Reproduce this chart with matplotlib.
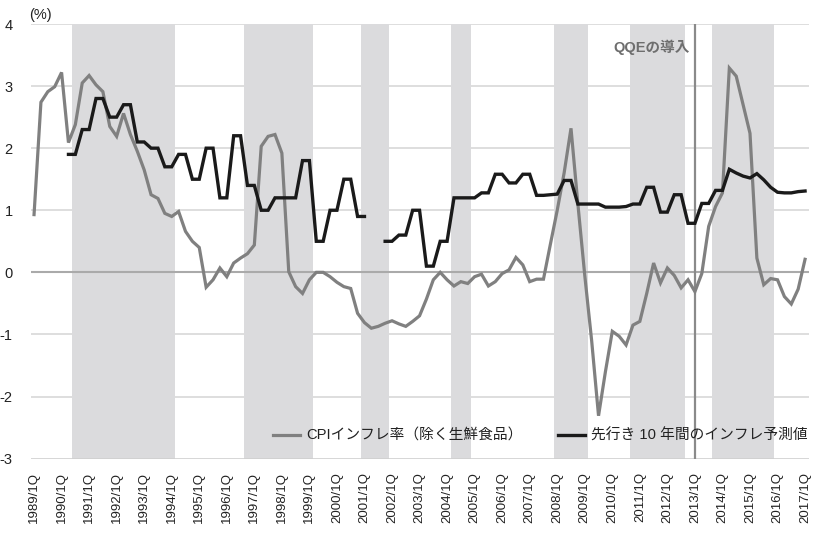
import matplotlib
matplotlib.use("Agg")
import matplotlib.pyplot as plt
from matplotlib.font_manager import FontProperties
import numpy as np

# ---------------- data ----------------
quarters = [f"{y}/{q}Q" for y in range(1989, 2018) for q in range(1, 5)][:113]

cpi = [
    0.93, 2.74, 2.91, 2.99, 3.22, 2.09, 2.38, 3.05, 3.17, 3.02, 2.91, 2.35, 2.19, 2.56,
    2.22, 1.95, 1.65, 1.25, 1.19, 0.95, 0.90, 0.98, 0.66, 0.50, 0.40, -0.24, -0.12, 0.07, -0.07,
    0.15, 0.23, 0.30, 0.44, 2.03, 2.19, 2.22, 1.92, 0.01, -0.23, -0.34, -0.12, 0.00, 0.00,
    -0.07, -0.16, -0.23, -0.26, -0.66, -0.81, -0.90, -0.87, -0.82, -0.78, -0.83, -0.87, -0.79, -0.70,
    -0.43, -0.12, 0.00, -0.12, -0.22, -0.15, -0.18, -0.07, -0.03, -0.22, -0.15, -0.02, 0.04, 0.24,
    0.12, -0.15, -0.11, -0.11, 0.45, 1.00, 1.60, 2.32, 1.10, -0.05, -1.10, -2.31, -1.60, -0.95,
    -1.03, -1.17, -0.85, -0.79, -0.34, 0.15, -0.17, 0.07, -0.05, -0.25, -0.12, -0.31, -0.02, 0.74,
    1.06, 1.28, 3.29, 3.16, 2.70, 2.24, 0.23, -0.20, -0.10, -0.12, -0.39, -0.51, -0.27, 0.21,
]

N = None
expect10y = [
    N, N, N, N, N,
    1.9, 1.9, 2.3, 2.3, 2.8, 2.8, 2.5, 2.5, 2.7, 2.7, 2.1, 2.1, 2.0, 2.0, 1.7, 1.7,
    1.9, 1.9, 1.5, 1.5, 2.0, 2.0, 1.2, 1.2, 2.2, 2.2, 1.4, 1.4, 1.0, 1.0,
    1.2, 1.2, 1.2, 1.2, 1.8, 1.8, 0.5, 0.5, 1.0, 1.0, 1.5, 1.5, 0.9, 0.9,
    N, N,
    0.5, 0.5, 0.6, 0.6, 1.0, 1.0, 0.1, 0.1, 0.5, 0.5, 1.2, 1.2, 1.2, 1.2,
    1.28, 1.28, 1.58, 1.58, 1.44, 1.44, 1.58, 1.58, 1.24, 1.24, 1.25, 1.26,
    1.48, 1.48, 1.1, 1.1, 1.1, 1.1, 1.05, 1.05, 1.05, 1.06, 1.1, 1.1,
    1.37, 1.37, 0.97, 0.97, 1.25, 1.25, 0.79, 0.79, 1.11, 1.11, 1.32, 1.32,
    1.66, 1.60, 1.55, 1.52, 1.59, 1.49, 1.37, 1.29, 1.28, 1.28, 1.30, 1.31,
]

shade_periods = [
    ("1990/3Q", "1994/1Q"),
    ("1996/4Q", "1999/1Q"),
    ("2001/1Q", "2001/4Q"),
    ("2004/2Q", "2004/4Q"),
    ("2008/1Q", "2009/1Q"),
    ("2010/4Q", "2012/3Q"),
    ("2013/4Q", "2015/4Q"),
]
qqe_quarter = "2013/1Q"
qqe_label = "QQEの導入"
label_cpi = "CPIインフレ率（除く生鮮食品）"
label_exp = "先行き 10 年間のインフレ予測値"
y_ticks = [-3, -2, -1, 0, 1, 2, 3, 4]

assert len(cpi) == len(quarters), len(cpi)
assert len(expect10y) == len(quarters), len(expect10y)

# ---------------- figure ----------------
W, H = 813, 533
fig = plt.figure(figsize=(W / 100, H / 100), dpi=100)
ax = fig.add_axes([30.6 / W, 1 - 458.6 / H, (808.5 - 30.6) / W, (458.6 - 24) / H])

x = np.arange(len(quarters))
idx = {q: i for i, q in enumerate(quarters)}
cpi_arr = np.array(cpi, dtype=float)
exp_arr = np.array([np.nan if v is None else v for v in expect10y], dtype=float)

ax.set_xlim(-0.5, len(quarters) - 0.5)
ax.set_ylim(-3, 4)

# grid lines (behind shading)
for yv in y_ticks:
    if yv in (0, -3):
        continue
    ax.axhline(yv, color="#d4d4d4", lw=1.1, zorder=0.5)

# shading
for s, e in shade_periods:
    ax.axvspan(idx[s] - 0.5, idx[e] + 0.5, color="#dbdbdd", lw=0, zorder=1)

# zero line & bottom line
ax.axhline(0, color="#aaaaaa", lw=1.5, zorder=2)
ax.axhline(-3, color="#cfcfcf", lw=1.2, zorder=2)

# QQE vertical line
ax.axvline(idx[qqe_quarter], color="#8a8a8a", lw=1.6, zorder=2.5)

l1, = ax.plot(x, cpi_arr, color="#808080", lw=2.3, zorder=3, solid_joinstyle="miter")
l2, = ax.plot(x, exp_arr, color="#1a1a1a", lw=2.4, zorder=4, solid_joinstyle="miter")

# annotation
ax.text(idx[qqe_quarter] - 0.75, 3.625, qqe_label, ha="right", va="center",
        fontsize=10.5, fontweight="bold", color="#6e6e6e",
        family=["Liberation Sans", "Noto Sans CJK JP"], zorder=5)

# axes styling
for sp in ax.spines.values():
    sp.set_visible(False)
ax.set_yticks(y_ticks)
ax.set_yticklabels([str(v) for v in y_ticks], family="Liberation Sans", fontsize=10.5, color="#222222")
tick_pos = [i for i, q in enumerate(quarters) if q.endswith("/1Q")]
ax.set_xticks(tick_pos)
ax.set_xticklabels([quarters[i] for i in tick_pos], rotation=90, family="Liberation Sans",
                   fontsize=9.5, color="#222222", va="top")
ax.tick_params(axis="y", length=0, pad=13)
ax.tick_params(axis="x", length=0, pad=9.5)

fig.text(29 / W, 1 - 15 / H, "(%)", ha="left", va="center", fontsize=10.5,
         family="Liberation Sans", color="#222222")

leg = ax.legend([l1, l2], [label_cpi, label_exp], ncol=2, loc="center right",
                bbox_to_anchor=(808 / W, 1 - 435.7 / H), bbox_transform=fig.transFigure,
                frameon=False, handlelength=1.8, handletextpad=0.45, columnspacing=2.4,
                borderpad=0, borderaxespad=0,
                prop=FontProperties(family=["Liberation Sans", "Noto Sans CJK JP"], size=10.6))
for t in leg.get_texts():
    t.set_color("#222222")
leg.set_zorder(6)

fig.savefig("out.png", dpi=100)
